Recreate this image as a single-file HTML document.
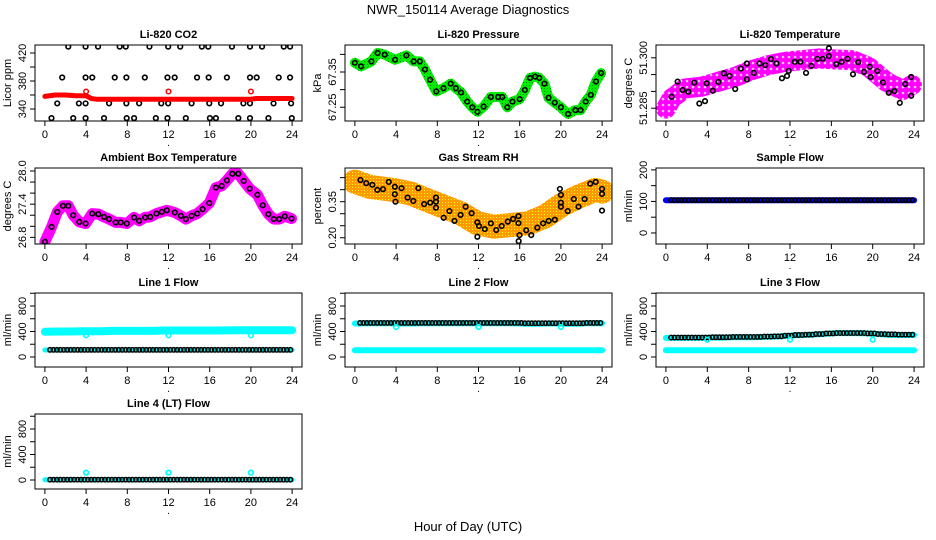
<!DOCTYPE html>
<html><head><meta charset="utf-8">
<style>
html,body{margin:0;padding:0;background:#fff;}
svg{display:block;font-family:"Liberation Sans",sans-serif;}
</style></head>
<body>
<svg id="chart" width="936" height="540" viewBox="0 0 936 540" xmlns="http://www.w3.org/2000/svg">
<defs>
<pattern id="magRings" width="6" height="6" patternUnits="userSpaceOnUse"><rect width="6" height="6" fill="#ff00ff"/><circle cx="3" cy="3" r="1.3" fill="#ffc0ff"/></pattern>
<pattern id="rhDots" width="3" height="3" patternUnits="userSpaceOnUse"><rect width="3" height="3" fill="#ff9900"/><rect x="1" y="1" width="1" height="1" fill="#ffff00"/></pattern>
<pattern id="greenDots" width="3" height="3" patternUnits="userSpaceOnUse"><rect width="3" height="3" fill="#00ee00"/><rect x="1" y="1" width="1" height="1" fill="#008800"/></pattern>
</defs>
<text x="468" y="14" text-anchor="middle" font-size="13">NWR_150114  Average Diagnostics</text>
<text x="468" y="531" text-anchor="middle" font-size="13">Hour of Day (UTC)</text>
</svg>
<script>
// ---------- data ----------
const co2BlackHours = [2.27,3.95,5.16,7.26,7.85,10.15,11.97,13.14,15.24,15.86,18.16,19.91,21.08,23.19,23.8,
 1.68,3.95,4.6,6.78,7.91,9.7,11.9,12.6,14.77,15.9,17.67,19.91,20.56,22.7,23.8,
 1.2,3.3,3.95,6.23,7.91,9.15,11.3,11.97,14.24,15.96,17.1,19.27,19.91,22.2,23.9,
 0.64,2.75,3.95,5.74,7.94,8.66,10.77,11.9,13.68,16.02,16.6,18.78,19.91,21.7,23.97];
const co2BlackValues = [429,429,429,429,429,429,429,429,429,429,429,429,429,429,429,
 385,385,385,385,385,385,385,385,385,385,385,385,385,385,385,
 348,348,348,348,348,348,348,348,348,348,348,348,348,348,348,
 327,327,327,327,327,327,327,327,327,327,327,327,327,327,327];
const co2RedHours = [0,1,2,3,4,4.5,5,6,8,10,12,14,16,18,20,20.5,22,24];
const co2RedValues = [358,360,360,359,359,355,354,354,354,354,354,354,354,354,354,355,355,355];
const co2RedOutHours = [4,12,20];
const co2RedOutValues = [365,365,365];

const presHours = [0,0.6,1.6,2.2,2.9,3.9,5.0,5.7,6.3,6.8,7.3,7.9,8.6,9.3,9.8,10.3,10.9,11.4,11.9,12.5,13.2,13.9,14.3,14.8,15.3,16.0,16.5,17.0,17.5,17.9,18.4,18.8,19.4,20.0,20.7,21.4,21.9,22.4,22.9,23.4,23.9];
const presValues = [67.376,67.366,67.380,67.404,67.399,67.385,67.397,67.380,67.380,67.357,67.328,67.295,67.304,67.317,67.304,67.292,67.266,67.250,67.237,67.252,67.279,67.279,67.279,67.250,67.266,67.273,67.299,67.333,67.337,67.333,67.317,67.277,67.263,67.250,67.231,67.242,67.242,67.266,67.285,67.323,67.347];

const tempBandHours = [0,0.55,1.84,3.46,5.08,6.7,8.3,9.9,11.55,13.2,14.8,16.4,18.0,19.6,21.3,22.9,23.8];
const tempBandValues = [51.2849,51.2879,51.2909,51.2914,51.2929,51.2943,51.2963,51.2978,51.2988,51.2993,51.2998,51.2995,51.2993,51.2973,51.2929,51.2904,51.2919];
const tempHours = [0.55,1.13,1.61,2.17,2.75,3.23,3.78,3.94,4.53,5.08,5.6,6.15,6.7,7.25,7.83,7.83,8.5,9.06,9.61,10.16,10.68,11.22,11.71,11.87,12.46,13.0,13.55,14.08,14.66,15.17,15.76,15.76,16.47,16.99,17.57,18.09,18.6,19.16,19.71,19.8,20.45,21.0,21.55,22.1,22.62,23.14,23.72,23.72];
const tempValues = [51.2884,51.2929,51.2904,51.2899,51.2926,51.2864,51.2871,51.2924,51.2902,51.2928,51.2954,51.2946,51.2907,51.2968,51.2936,51.2983,51.2955,51.2983,51.2978,51.2996,51.2983,51.2939,51.2946,51.2961,51.2988,51.2988,51.2955,51.2976,51.2997,51.2997,51.3005,51.3028,51.2981,51.2988,51.2997,51.2951,51.2987,51.2958,51.2973,51.2943,51.2961,51.2927,51.2896,51.2901,51.2866,51.2922,51.2943,51.2887];

const ambHours = [0,0.65,1.2,1.75,2.27,2.75,3.34,3.95,4.6,5.19,5.74,6.23,6.87,7.36,7.95,8.66,9.15,9.73,10.22,10.83,11.35,11.83,12.61,13.2,13.68,14.24,14.79,15.31,15.96,16.6,17.16,17.67,18.2,18.78,19.3,19.88,20.63,21.15,21.7,22.22,22.74,23.29,23.94];
const ambValues = [26.72,26.99,27.26,27.37,27.37,27.20,27.08,27.05,27.23,27.22,27.17,27.13,27.07,27.07,27.05,27.16,27.10,27.16,27.17,27.23,27.26,27.29,27.25,27.19,27.13,27.19,27.23,27.31,27.42,27.70,27.73,27.83,27.95,27.95,27.82,27.68,27.57,27.38,27.22,27.13,27.13,27.18,27.14];

const rhBandHours = [0,1.42,3.71,5.35,6.99,8.62,10.26,11.89,13.52,15.16,16.8,18.43,20.07,21.71,23.34,24];
const rhBandValues = [0.433,0.412,0.399,0.385,0.357,0.329,0.302,0.260,0.246,0.253,0.260,0.288,0.336,0.371,0.399,0.392];
const rhHours = [0.54,1.10,1.69,2.18,2.73,3.29,3.88,3.88,3.94,4.53,5.12,5.67,6.16,6.72,7.31,7.87,7.87,7.87,8.62,9.18,9.67,10.26,10.75,11.33,11.89,11.89,12.05,12.61,13.2,13.72,14.25,14.84,15.36,15.88,15.88,15.98,15.9,16.63,17.12,17.71,18.27,18.82,19.41,19.9,20.0,20.0,20.0,20.66,21.25,21.71,22.3,22.85,23.38,23.99,23.99,23.99];
const rhValues = [0.440,0.427,0.420,0.399,0.402,0.432,0.412,0.381,0.350,0.406,0.367,0.353,0.406,0.340,0.346,0.367,0.350,0.325,0.283,0.311,0.270,0.295,0.329,0.302,0.264,0.204,0.249,0.236,0.260,0.232,0.249,0.267,0.278,0.290,0.261,0.211,0.186,0.231,0.211,0.242,0.260,0.270,0.275,0.403,0.378,0.346,0.329,0.311,0.361,0.329,0.361,0.425,0.432,0.403,0.382,0.313];

const sampleFlowBlue = [104,104,104,104,104,104,104,104,104,104,104,104,104,104,104,104,104,104,104,104,104,104,104,104];
const sampleFlowBlack = [104,104,104,104,104,104,104,104,104,104,104,104,104,104,104,104,104,104,104,104,104,104,104,104];
const line1CyanHigh = [395,400,400,405,405,405,410,410,410,410,410,415,415,415,415,415,415,418,420,420,420,420,420,420];
const line1CyanLow = [110,110,110,110,110,110,110,110,110,110,110,110,110,110,110,110,110,110,110,110,110,110,110,110];
const line1Black = [112,112,112,112,112,112,112,112,112,112,112,112,112,112,112,112,112,112,112,112,112,112,112,112];
const line2CyanHigh = [525,530,530,530,525,525,530,530,530,530,530,530,530,530,530,530,520,520,525,525,520,520,530,530];
const line2CyanLow = [105,105,105,105,105,105,105,105,105,105,105,105,105,105,105,105,105,105,105,105,105,105,105,105];
const line2Black = [535,535,535,535,535,535,535,535,535,535,535,535,535,535,535,535,530,530,530,530,530,530,535,535];
const line3CyanHigh = [300,300,300,300,305,305,310,310,310,315,320,330,340,345,355,365,375,375,375,370,360,350,345,345];
const line3CyanLow = [105,105,105,105,105,105,105,105,105,105,105,105,105,105,105,105,105,105,105,105,105,105,105,105];
const line3Black = [305,305,305,305,310,310,315,315,315,320,325,335,345,350,360,370,375,375,375,370,360,355,350,350];
const line4Cyan = [5,5,5,5,5,5,5,5,5,5,5,5,5,5,5,5,5,5,5,5,5,5,5,5];
const line4Black = [5,5,5,5,5,5,5,5,5,5,5,5,5,5,5,5,5,5,5,5,5,5,5,5];
const flowOutHours = [4,12,20];
const line1OutValues = [340,340,340];
const line2OutValues = [470,470,470];
const line3OutValues = [270,270,270];
const line4OutValues = [115,115,115];

const xTicks = [0,4,8,12,16,20,24];

// ---------- drawing ----------
const NS = "http://www.w3.org/2000/svg";
const svg = document.getElementById("chart");
const defs = svg.querySelector("defs");
const cols = [[35,302],[345,612],[656,924]];
const rows = [[45,121],[168,244],[293,367],[414,489]];

function mk(tag, attrs, parent){
  const e = document.createElementNS(NS, tag);
  for (const k in attrs) e.setAttribute(k, attrs[k]);
  (parent||svg).appendChild(e);
  return e;
}

function makePanel(c, r, title, ylab, ydom, yticks, ylabels, slug){
  const [x0,x1] = cols[c], [y0,y1] = rows[r];
  const g = mk("g", {});
  
  
  const xs = h => x0 + (h + 0.96) / 25.92 * (x1 - x0);
  const ys = v => y1 - (v - ydom[0]) / (ydom[1] - ydom[0]) * (y1 - y0);
  const cp = mk("clipPath", {id:"clip-"+slug}, defs);
  mk("rect", {x:x0, y:y0, width:x1-x0, height:y1-y0}, cp);
  const marks = mk("g", {"clip-path":"url(#clip-"+slug+")"}, g);
  
  
  const box = mk("rect", {x:x0, y:y0, width:x1-x0, height:y1-y0, fill:"none", stroke:"#000", "stroke-width":1}, g);
  
  
  const t = mk("text", {x:(x0+x1)/2, y:y0-7, "text-anchor":"middle", "font-size":11, "font-weight":"bold"}, g);
  t.textContent = title;
  
  
  const xa = mk("g", {}, g);
  
  
  mk("line", {x1:xs(0), x2:xs(24), y1:y1, y2:y1, stroke:"#000"}, xa);
  xTicks.forEach(h => {
    mk("line", {x1:xs(h), x2:xs(h), y1:y1, y2:y1+5, stroke:"#000"}, xa);
    const tl = mk("text", {x:xs(h), y:y1+17, "text-anchor":"middle", "font-size":11}, xa);
    tl.textContent = h;
    
    
  });
  const dot = mk("text", {x:(x0+x1)/2, y:y1+25, "text-anchor":"middle", "font-size":10}, xa);
  dot.textContent = ".";
  const ya = mk("g", {}, g);
  
  
  mk("line", {x1:x0, x2:x0, y1:ys(yticks[0]), y2:ys(yticks[yticks.length-1]), stroke:"#000"}, ya);
  yticks.forEach(v => mk("line", {x1:x0-5, x2:x0, y1:ys(v), y2:ys(v), stroke:"#000"}, ya));
  ylabels.forEach(v => {
    const yy = ys(parseFloat(v));
    const tl = mk("text", {x:x0-9, y:yy, "text-anchor":"middle", "font-size":11, transform:`rotate(-90 ${x0-9} ${yy})`}, ya);
    tl.textContent = v;
    
    
  });
  const yl = mk("text", {x:x0-24, y:(y0+y1)/2, "text-anchor":"middle", "font-size":11, transform:`rotate(-90 ${x0-24} ${(y0+y1)/2})`}, g);
  yl.textContent = ylab;
  
  
  return {xs, ys, marks};
}

function band(p, hours, vals, color, width){
  const d = hours.map((h,i)=>(i?"L":"M")+p.xs(h).toFixed(1)+" "+p.ys(vals[i]).toFixed(1)).join(" ");
  const e = mk("path", {d, fill:"none", stroke:color, "stroke-width":width, "stroke-linejoin":"round", "stroke-linecap":"round"}, p.marks);
  
  
}
function pts(p, hours, vals, color, r, sw){
  hours.forEach((h,i)=>{
    const c = mk("circle", {cx:p.xs(h), cy:p.ys(vals[i]), r:r||2.3, fill:"none", stroke:color||"#000", "stroke-width":sw||1.6}, p.marks);
    
    
  });
}
function hourlyBand(p, vals, color, width, startH){
  const hs = vals.map((v,i)=>i+0.5);
  hs[0] = startH; hs.push(24);
  const vs = vals.slice(); vs.push(vals[vals.length-1]);
  band(p, hs, vs, color, width);
}
function hourlyPts(p, vals, color){
  vals.forEach((v,i)=>{
    for (let k=0;k<3;k++){
      const h = i + 0.5 + k/3;
      if (h > 23.95) continue;
      const c = mk("circle", {cx:p.xs(h), cy:p.ys(v), r:2.2, fill:"none", stroke:color, "stroke-width":1.5}, p.marks);
      
      
    }
  });
}

let p = makePanel(0,0,"Li-820 CO2","Licor ppm",[322.9,431.4],[340,360,380,400,420],["340","380","420"],"co2");
pts(p, co2BlackHours, co2BlackValues, "#000", 2.3, 1.6);
band(p, co2RedHours, co2RedValues, "#ff0000", 5);
pts(p, co2RedOutHours, co2RedOutValues, "#ff0000", 2.3, 1.5);

p = makePanel(1,0,"Li-820 Pressure","kPa",[67.211,67.4266],[67.25,67.30,67.35,67.40],["67.25","67.35"],"pressure");
band(p, presHours, presValues, "url(#greenDots)", 10);
pts(p, presHours, presValues, "#000", 2.3, 1.6);

p = makePanel(2,0,"Li-820 Temperature","degrees C",[51.2812,51.3038],[51.285,51.290,51.295,51.300],["51.285","51.300"],"temperature");
band(p, tempBandHours, tempBandValues, "url(#magRings)", 20);
pts(p, tempHours, tempValues, "#000", 2.3, 1.6);

p = makePanel(0,1,"Ambient Box Temperature","degrees C",[26.68,28.054],[26.8,27.0,27.2,27.4,27.6,27.8,28.0],["26.8","27.4","28.0"],"ambient");
band(p, ambHours, ambValues, "#ff00ff", 11);
pts(p, ambHours, ambValues, "#000", 2.3, 1.6);

p = makePanel(1,1,"Gas Stream RH","percent",[0.174,0.490],[0.20,0.25,0.30,0.35,0.40,0.45],["0.20","0.35"],"rh");
band(p, rhBandHours, rhBandValues, "url(#rhDots)", 24);
pts(p, rhHours, rhValues, "#000", 2.3, 1.6);

p = makePanel(2,1,"Sample Flow","ml/min",[-35,206],[0,50,100,150,200],["0","100","200"],"sample-flow");
hourlyBand(p, sampleFlowBlue, "#0000ff", 6, 0);
hourlyPts(p, sampleFlowBlack, "#000");

p = makePanel(0,2,"Line 1 Flow","ml/min",[-157,1004],[0,200,400,600,800,1000],["0","400","800"],"line1-flow");
hourlyBand(p, line1CyanHigh, "#00ffff", 8, 0);
hourlyBand(p, line1CyanLow, "#00ffff", 5, 0);
hourlyPts(p, line1Black, "#000");
pts(p, flowOutHours, line1OutValues, "#00ffff", 2.3, 1.6);

p = makePanel(1,2,"Line 2 Flow","ml/min",[-157,1004],[0,200,400,600,800,1000],["0","400","800"],"line2-flow");
hourlyBand(p, line2CyanLow, "#00ffff", 6, 0);
hourlyBand(p, line2CyanHigh, "#00ffff", 6, 0);
hourlyPts(p, line2Black, "#000");
pts(p, flowOutHours, line2OutValues, "#00ffff", 2.3, 1.6);

p = makePanel(2,2,"Line 3 Flow","ml/min",[-157,1004],[0,200,400,600,800,1000],["0","400","800"],"line3-flow");
hourlyBand(p, line3CyanLow, "#00ffff", 6, 0);
hourlyBand(p, line3CyanHigh, "#00ffff", 6, 0);
hourlyPts(p, line3Black, "#000");
pts(p, flowOutHours, line3OutValues, "#00ffff", 2.3, 1.6);

p = makePanel(0,3,"Line 4 (LT) Flow","ml/min",[-141,1035],[0,200,400,600,800,1000],["0","400","800"],"line4-flow");
hourlyBand(p, line4Cyan, "#00ffff", 5, 0);
hourlyPts(p, line4Black, "#000");
pts(p, flowOutHours, line4OutValues, "#00ffff", 2.3, 1.8);
</script>
</body></html>
